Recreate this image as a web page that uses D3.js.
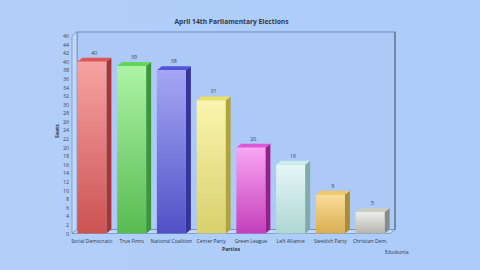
<!DOCTYPE html>
<html><head><meta charset="utf-8">
<script src="https://cdn.jsdelivr.net/npm/d3@7"></script>
<style>html,body{margin:0;padding:0;background:#aecdf9;}svg{display:block;}</style>
</head><body>
<script>
const parties = ["Social Democratic","True Finns","National Coalition","Center Party","Green League","Left Alliance","Swedish Party","Christian Dem."];
const seats = [40,39,38,31,20,16,9,5];
const yTicks = d3.range(0,47,2);
const frontLight = ["#f7a3a3","#adf3a5","#a6a6f5","#faf5ad","#f9a6f3","#e4f6f5","#f9dc98","#ececea"];
const frontDark  = ["#cc5252","#58bc52","#5151c6","#d9d06e","#c43fbb","#afd7d3","#d8ae52","#b6b6ae"];
const sideCol    = ["#a83434","#3b9636","#34349c","#aea43e","#94208b","#82aaa6","#ad8c2e","#8a8a84"];
const topCol     = ["#e05555","#62d65a","#5555dc","#e8e064","#e055d8","#cbeeec","#f0c864","#cacdc2"];

const W=480,H=270, dx=5, dy=-4;
const svg=d3.select("body").append("svg").attr("width",W).attr("height",H);
const defs=svg.append("defs");
const bg=defs.append("linearGradient").attr("id","bg").attr("x1",0).attr("x2",1).attr("y1",0).attr("y2",0);
bg.append("stop").attr("offset","0").attr("stop-color","#b2cff9");
bg.append("stop").attr("offset","1").attr("stop-color","#accbf9");
svg.append("rect").attr("width",W).attr("height",H).attr("fill","url(#bg)");

const x=d3.scaleBand().domain(parties).range([72,390]).paddingInner(0.27).paddingOuter(0.135);
const y=d3.scaleLinear().domain([0,46]).range([233.5,36]);

// back wall
svg.append("rect").attr("x",72+dx).attr("y",y(46)+dy).attr("width",390-72).attr("height",y(0)-y(46))
  .attr("fill","#acc9f7").attr("stroke","#5a7fb0").attr("stroke-width",0.8);
svg.append("line").attr("x1",390+dx).attr("x2",390+dx).attr("y1",y(46)+dy).attr("y2",y(0)+dy).attr("stroke","#6b7f98").attr("stroke-width",1.6);
// left side wall
svg.append("path").attr("d",`M72,${y(46)}L${72+dx},${y(46)+dy}L${72+dx},${y(0)+dy}L72,${y(0)}Z`)
  .attr("fill","#c2d8fa").attr("stroke","#5a7fb0").attr("stroke-width",0.6);
// floor
svg.append("path").attr("d",`M72,${y(0)}L${72+dx},${y(0)+dy}L${390+dx},${y(0)+dy}L390,${y(0)}Z`)
  .attr("fill","#c2d8fa").attr("stroke","#5a7fb0").attr("stroke-width",0.6);

// y ticks
const ty=svg.append("g").attr("font-family","Open Sans, sans-serif").attr("font-size",5.3).attr("fill","#3a4658");
ty.selectAll("text").data(yTicks).join("text").attr("x",69).attr("y",d=>y(d)+2).attr("text-anchor","end").text(d=>d);

// bars
parties.forEach((p,i)=>{
  const g=defs.append("linearGradient").attr("id","g"+i).attr("x1",0).attr("x2",0).attr("y1",0).attr("y2",1);
  g.append("stop").attr("offset","0").attr("stop-color",frontLight[i]);
  g.append("stop").attr("offset","1").attr("stop-color",frontDark[i]);
});
const bars=svg.append("g").selectAll("g").data(parties).join("g");
bars.append("path").attr("d",(d,i)=>{const x0=x(d),x1=x0+x.bandwidth(),yt=y(seats[i]),yb=y(0);
  return `M${x1},${yt}L${x1+dx},${yt+dy}L${x1+dx},${yb+dy}L${x1},${yb}Z`;}).attr("fill",(d,i)=>sideCol[i]);
bars.append("path").attr("d",(d,i)=>{const x0=x(d),x1=x0+x.bandwidth(),yt=y(seats[i]);
  return `M${x0},${yt}L${x0+dx},${yt+dy}L${x1+dx},${yt+dy}L${x1},${yt}Z`;}).attr("fill",(d,i)=>topCol[i]);
bars.append("rect").attr("x",d=>x(d)).attr("y",(d,i)=>y(seats[i])).attr("width",x.bandwidth())
  .attr("height",(d,i)=>y(0)-y(seats[i])).attr("fill",(d,i)=>`url(#g${i})`);
bars.append("text").attr("x",d=>x(d)+x.bandwidth()/2+dx/2).attr("y",(d,i)=>y(seats[i])+dy-3)
  .attr("text-anchor","middle").attr("font-family","Open Sans, sans-serif").attr("font-size",5.3).attr("fill","#3a4658").text((d,i)=>seats[i]);

// category labels
svg.append("g").selectAll("text").data(parties).join("text").attr("x",d=>x(d)+x.bandwidth()/2).attr("y",242.5)
  .attr("text-anchor","middle").attr("font-family","Open Sans, sans-serif").attr("font-size",5.0).attr("fill","#2c3646").text(d=>d);

svg.append("text").attr("x",231.5).attr("y",24).attr("text-anchor","middle").attr("font-family","Open Sans, sans-serif")
  .attr("font-weight","bold").attr("font-size",6.7).attr("fill","#2f3a4c").text("April 14th Parliamentary Elections");
svg.append("text").attr("x",231).attr("y",250.5).attr("text-anchor","middle").attr("font-family","Open Sans, sans-serif")
  .attr("font-weight","bold").attr("font-size",5.2).attr("fill","#2f3a4c").text("Parties");
svg.append("text").attr("transform","translate(59,131) rotate(-90)").attr("text-anchor","middle").attr("font-family","Open Sans, sans-serif")
  .attr("font-weight","bold").attr("font-size",5.2).attr("fill","#2f3a4c").text("Seats");
svg.append("text").attr("x",385).attr("y",254).attr("font-family","Open Sans, sans-serif")
  .attr("font-size",4.8).attr("fill","#2f3a4c").text("Eduskunta");
</script>
</body></html>
